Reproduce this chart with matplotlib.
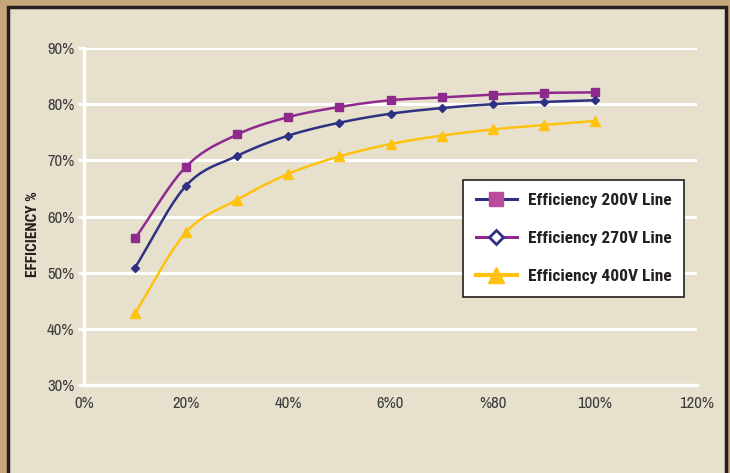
import numpy as np
import matplotlib
matplotlib.use("Agg")
import matplotlib.pyplot as plt
from matplotlib.lines import Line2D
from matplotlib.patches import Rectangle

# Data
load = [10, 20, 30, 40, 50, 60, 70, 80, 90, 100]
eff_200v = [56.1, 68.9, 74.6, 77.7, 79.5, 80.7, 81.2, 81.7, 82.0, 82.1]
eff_270v = [50.9, 65.5, 70.8, 74.4, 76.7, 78.3, 79.3, 80.0, 80.4, 80.7]
eff_400v = [42.8, 57.2, 63.0, 67.6, 70.7, 72.9, 74.4, 75.5, 76.3, 77.0]

x_ticks = [0, 20, 40, 60, 80, 100, 120]
x_labels = ["0%", "20%", "40%", "6%0", "%80", "100%", "120%"]
y_ticks = [30, 40, 50, 60, 70, 80, 90]
y_labels = ["30%", "40%", "50%", "60%", "70%", "80%", "90%"]
legend_labels = ["Efficiency 200V Line", "Efficiency 270V Line", "Efficiency 400V Line"]

purple = "#8E2A8E"
navy = "#2E3182"
yellow = "#FFC20E"
panel = "#E6E0CD"
dark = "#231F20"

plt.rcParams["font.family"] = ["Archivo Narrow", "DejaVu Sans"]
bold_family = ["Roboto Condensed", "Asap Condensed", "DejaVu Sans"]


def smooth(xs, ys, n=20):
    # Catmull-Rom style smoothing like a spreadsheet "smoothed line"
    xs = np.asarray(xs, float)
    ys = np.asarray(ys, float)
    px = np.concatenate([[2 * xs[0] - xs[1]], xs, [2 * xs[-1] - xs[-2]]])
    py = np.concatenate([[2 * ys[0] - ys[1]], ys, [2 * ys[-1] - ys[-2]]])
    out_x, out_y = [], []
    t = np.linspace(0, 1, n, endpoint=False)
    for i in range(1, len(px) - 2):
        for arr, res in ((px, out_x), (py, out_y)):
            p0, p1, p2, p3 = arr[i - 1], arr[i], arr[i + 1], arr[i + 2]
            res.extend(0.5 * ((2 * p1) + (-p0 + p2) * t
                              + (2 * p0 - 5 * p1 + 4 * p2 - p3) * t ** 2
                              + (-p0 + 3 * p1 - 3 * p2 + p3) * t ** 3))
    out_x.append(xs[-1])
    out_y.append(ys[-1])
    return out_x, out_y


fig = plt.figure(figsize=(7.3, 4.73), dpi=100)
fig.patch.set_facecolor("#C8A67C")
fig.add_artist(Rectangle((8 / 730, -0.01), 718 / 730, 1 - 7 / 473 + 0.01,
                         transform=fig.transFigure, facecolor=panel,
                         edgecolor=dark, linewidth=2.5, zorder=0))

ax = fig.add_axes([84 / 730, 1 - 385 / 473, 613 / 730, 337 / 473])
ax.set_facecolor("none")

for v in y_ticks[1:]:
    ax.axhline(v, color="white", lw=2.2, zorder=1)

series = [
    (eff_200v, purple, "s", purple, 6),
    (eff_270v, navy, "D", navy, 4.5),
    (eff_400v, yellow, "^", yellow, 7),
]
for ys, col, mk, mcol, ms in series:
    sx, sy = smooth(load, ys)
    ax.plot(sx, sy, color=col, lw=1.8, zorder=3)
    ax.plot(load, ys, ls="none", marker=mk, color=mcol, ms=ms, zorder=4)

ax.set_xlim(0, 120)
ax.set_ylim(30, 90)
ax.set_xticks(x_ticks)
ax.set_xticklabels(x_labels)
ax.set_yticks(y_ticks)
ax.set_yticklabels(y_labels)
ax.tick_params(axis="both", colors="white", labelcolor="#3C3C3C", labelsize=12)
ax.tick_params(axis="x", length=0, pad=8)
ax.tick_params(axis="y", length=4, width=2, pad=3)
for side in ["top", "right"]:
    ax.spines[side].set_visible(False)
ax.spines["left"].set_color("white")
ax.spines["left"].set_linewidth(2.5)
ax.spines["bottom"].set_color("white")
ax.spines["bottom"].set_linewidth(2.5)

fig.text(33 / 730, 1 - 234 / 473, "EFFICIENCY %", rotation=90, ha="center",
         va="center", fontsize=11, fontweight="bold", color="#231F20",
         family=bold_family)

# legend handles as drawn in the reference (colours swapped there)
handles = [
    Line2D([], [], color=navy, lw=2.2, marker="s", ms=10, mfc="#B94C9D", mec="#B94C9D"),
    Line2D([], [], color=purple, lw=2.2, marker="D", ms=7, mfc="white", mec=navy, mew=2),
    Line2D([], [], color=yellow, lw=3, marker="^", ms=11, mfc=yellow, mec=yellow),
]
leg = ax.legend(handles, legend_labels, loc="upper left",
                bbox_to_anchor=((463 - 84) / 613, (385 - 180) / 337),
                borderaxespad=0, frameon=True, fancybox=False,
                handlelength=2.35, labelspacing=1.3, borderpad=0.75,
                handletextpad=0.63,
                prop={"weight": "bold", "size": 12.5, "family": bold_family})
leg.get_frame().set_edgecolor(dark)
leg.get_frame().set_linewidth(1.2)
leg.get_frame().set_facecolor("white")
leg.get_frame().set_alpha(1)
for t in leg.get_texts():
    t.set_color("#231F20")

fig.savefig("out.png", dpi=100, facecolor=fig.get_facecolor())
